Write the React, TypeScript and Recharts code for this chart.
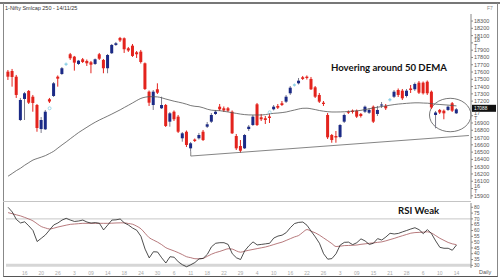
import React from 'react';
import { ComposedChart, Bar, Line, XAxis, YAxis, ReferenceLine, ReferenceArea } from 'recharts';

// daily candles, 10 Jun 2025 .. 14 Nov 2025
const opens = [
  17605, 17614, 17536, 16941, 17230, 17340, 17261, 17147, 16817, 16813,
  17226, 17271, 17536, 17573, 17697, 17844, 17811, 17711, 17775, 17752,
  17734, 17711, 17844, 17766, 17652, 17858, 17972, 18068, 18064, 17926,
  17962, 17871, 17880, 17720, 17330, 17147, 17363, 17102, 17147, 16918,
  17055, 16987, 16690, 16780, 16552, 16673, 16690, 16780, 16849, 16918,
  17024, 17124, 17102, 17102, 17055, 16721, 16584, 16552, 16817, 16872,
  17157, 16978, 16965, 16989, 17088, 17134, 17171, 17193, 17308, 17412,
  17445, 17528, 17536, 17505, 17390, 17285, 17179, 17010, 16735, 16721,
  16708, 16918, 17055, 17069, 17069, 17024, 17055, 17041, 17124, 17024,
  17140, 17134, 17209, 17261, 17353, 17344, 17271, 17374, 17363, 17454,
  17454, 17467, 17330, 17010, 17079, 17069, 17079, 17171, 17033,
];
const highs = [
  17628, 17642, 17560, 17244, 17326, 17353, 17285, 17161, 16982, 17079,
  17244, 17463, 17553, 17669, 17731, 17862, 17821, 17766, 17793, 17772,
  17752, 17786, 17862, 17779, 17848, 17985, 18013, 18082, 18075, 17944,
  17985, 17889, 17903, 17731, 17346, 17353, 17445, 17261, 17161, 17051,
  17072, 17010, 16776, 16797, 16639, 16687, 16763, 16804, 16914, 17037,
  17079, 17161, 17127, 17120, 17072, 16749, 16666, 16749, 16872, 17010,
  17175, 17024, 16996, 17037, 17147, 17161, 17202, 17285, 17408, 17443,
  17518, 17546, 17553, 17532, 17408, 17312, 17202, 17037, 16749, 16790,
  16886, 17030, 17072, 17085, 17085, 17037, 17140, 17106, 17140, 17134,
  17188, 17161, 17243, 17353, 17374, 17367, 17367, 17422, 17456, 17477,
  17470, 17484, 17346, 17065, 17092, 17085, 17140, 17188, 17106,
];
const lows = [
  17491, 17399, 17244, 16927, 16941, 17161, 17055, 16780, 16763, 16804,
  17175, 17257, 17399, 17560, 17683, 17766, 17619, 17697, 17724, 17683,
  17583, 17697, 17766, 17583, 17583, 17848, 17958, 18013, 17862, 17876,
  17807, 17793, 17717, 17353, 17134, 17079, 17298, 17092, 16845, 16849,
  16927, 16763, 16643, 16570, 16506, 16639, 16673, 16653, 16831, 16900,
  17010, 17065, 17051, 17051, 16749, 16529, 16492, 16543, 16790, 16859,
  16859, 16927, 16886, 16900, 17072, 17092, 17134, 17175, 17285, 17401,
  17429, 17491, 17497, 17353, 17243, 17175, 17134, 16680, 16629, 16629,
  16690, 16900, 17024, 17030, 16969, 16975, 17037, 17024, 16900, 16996,
  17106, 17079, 17195, 17243, 17257, 17216, 17250, 17312, 17340, 17298,
  17291, 17285, 17092, 16827, 17024, 16951, 17065, 17051, 17024,
];
const closes = [
  17536, 17532, 17285, 17216, 17308, 17179, 17175, 16831, 16941, 17055,
  17195, 17445, 17509, 17652, 17718, 17789, 17729, 17756, 17738, 17720,
  17701, 17775, 17783, 17652, 17834, 17972, 17995, 18034, 17913, 17896,
  17821, 17844, 17738, 17367, 17179, 17330, 17316, 17147, 16859, 17033,
  16951, 16780, 16758, 16598, 16621, 16653, 16735, 16666, 16882, 17010,
  17055, 17088, 17072, 17069, 16758, 16552, 16519, 16735, 16849, 16987,
  16872, 16951, 16941, 16969, 17124, 17110, 17147, 17261, 17385, 17432,
  17481, 17505, 17518, 17363, 17261, 17193, 17161, 16703, 16666, 16701,
  16872, 17010, 17041, 17051, 16987, 16996, 17124, 17079, 16918, 17079,
  17154, 17102, 17230, 17330, 17285, 17239, 17344, 17353, 17436, 17316,
  17308, 17308, 17113, 17044, 17044, 17033, 17124, 17069, 17088,
];
const dema50 = [
  16169, 16207, 16246, 16279, 16320, 16356, 16391, 16412, 16431, 16452,
  16481, 16512, 16556, 16599, 16640, 16684, 16727, 16769, 16806, 16842,
  16878, 16911, 16941, 16968, 16995, 17023, 17052, 17081, 17113, 17144,
  17176, 17209, 17238, 17254, 17261, 17261, 17258, 17246, 17229, 17214,
  17199, 17187, 17174, 17158, 17139, 17129, 17124, 17109, 17089, 17076,
  17071, 17069, 17060, 17051, 17041, 17032, 17022, 17015, 17011, 17010,
  17010, 17010, 17015, 17026, 17033, 17037, 17043, 17051, 17065, 17078,
  17092, 17102, 17103, 17095, 17084, 17071, 17062, 17055, 17051, 17051,
  17052, 17054, 17058, 17063, 17067, 17074, 17085, 17095, 17106, 17117,
  17126, 17135, 17144, 17153, 17160, 17165, 17170, 17174, 17177, 17177,
  17174, 17172, 17166, 17159, 17154, 17150, 17146, 17140, 17135,
];
const rsi14 = [
  80, 76, 69.5, 66.5, 67.5, 64, 60, 50.5, 53.3, 56.2,
  60.5, 64.8, 66.5, 69, 70.5, 69, 67.8, 68.2, 69, 67.3,
  66.4, 66.8, 66.2, 60.5, 64.7, 69, 69.2, 69.9, 66.6, 64.7,
  62.1, 60.2, 55, 44, 36.4, 41.7, 41.5, 36.5, 32, 37.4,
  37, 33, 30.5, 28.8, 30.5, 32.4, 35.6, 36, 39.5, 46,
  49, 49.5, 49.5, 48, 40, 36.5, 35, 42.5, 46.8, 50.2,
  47.6, 48, 48.5, 49, 53.5, 55.2, 56, 58.2, 62.5, 66,
  67, 67.3, 64.5, 59.4, 54.5, 49, 40, 35.3, 35.8, 40,
  47.5, 49.8, 50, 47.8, 49.5, 52.8, 51, 48, 49, 53,
  51.8, 54.4, 57.6, 57, 57.5, 58.8, 60, 61.3, 62.4, 60.7,
  57.3, 60.8, 57.2, 51, 45.5, 44.7, 44.7, 43, 47.5,
];
const rsiSignal = [
  75.4, 74.5, 73.5, 72.6, 71.3, 69.9, 68.3, 65.8, 63.4, 62.2,
  61.3, 62, 63, 63.8, 64.6, 65.3, 65.6, 65.9, 66.2, 66.2,
  66.2, 66.2, 66.2, 66.2, 66.2, 66.3, 66.5, 66.6, 66.6, 66,
  65.4, 63.7, 61.5, 57.6, 53.8, 51.8, 50, 47.8, 45.2, 43.7,
  42.4, 40.9, 39.2, 37.4, 36.6, 35.7, 35.6, 36, 37.8, 39.6,
  41, 42, 43.2, 44.3, 44, 42.4, 41.3, 42.2, 43, 43.7,
  44.4, 45.1, 45.8, 46.8, 47.9, 49, 50, 51.5, 53, 54.5,
  55.7, 58.5, 60.8, 59.4, 58, 56, 53.6, 51.2, 48.7, 46.2,
  46.5, 47, 47.1, 47.3, 47.5, 48.1, 48.5, 49, 49.3, 49.8,
  50.2, 51.1, 52.2, 53.2, 54.4, 55.5, 56.6, 57.7, 58.2, 58.4,
  58.6, 58.9, 57.8, 55.6, 53.3, 51.5, 49.7, 48.5, 47.8,
];
const lightCandles = [14, 69, 92];
const markIdx = [10, 63];
const markVal = [17102, 17047];

// 17100 sits under the last-price tag, so it is not listed
const priceTicks = [
  15900, 16000, 16100, 16200, 16300, 16400, 16500, 16600, 16700, 16800, 16900, 17000,
  17200, 17300, 17400, 17500, 17600, 17700, 17800, 17900, 18000, 18100, 18200, 18300,
];
const rsiTicks = [30, 35, 40, 45, 50, 55, 60, 65, 70, 75, 80];
const dateTickIdx = [4, 8, 12, 16, 20, 24, 28, 32, 36, 40, 44, 48, 52, 56, 60, 64, 68, 72, 76, 80, 84, 88, 92, 96, 100, 104, 108];
const dateTickLabels = ['16', '20', '26', '3', '09', '14', '18', '24', '30', '6', '11', '18', '22', '29', '4', '10', '16', '22', '26', '3', '09', '15', '21', '28', '6', '10', '14'];
const lastPrice = 17088;
const trendFrom = { i: 44, low: 16506, p: 16446 };
const trendTo = { i: 111, p: 16728 };
const circleBox = { i1: 102, i2: 111, p1: 16780, p2: 17239 };

const EMPTY_SLOTS = 3;

const data = Array.from({ length: opens.length + EMPTY_SLOTS }, (_, i) => {
  if (i >= opens.length) return { i };
  const mk = markIdx.indexOf(i);
  return {
    i,
    o: opens[i],
    h: highs[i],
    l: lows[i],
    c: closes[i],
    dema: dema50[i],
    rsi: rsi14[i],
    sig: rsiSignal[i],
    mark: mk >= 0 ? markVal[mk] : null,
  };
});

const RED = '#e3231d';
const NAVY = '#1b2a86';
const LIGHT = '#8ccfe6';

const Candle = (props: any) => {
  const { x, y, width, height, payload } = props;
  if (!payload || payload.o == null) return null;
  const { o, h, l, c, i } = payload;
  const top = Math.min(y, y + height);
  const span = Math.abs(height);
  const py = (v: number) => top + ((h - v) / (h - l)) * span;
  const cx = x + width / 2;
  const light = lightCandles.includes(i);
  const up = c >= o;
  const fill = light ? LIGHT : up ? NAVY : RED;
  const wick = light ? LIGHT : up ? '#7c7c8c' : RED;
  const bTop = py(Math.max(o, c));
  const bH = Math.max(1, py(Math.min(o, c)) - bTop);
  return (
    <g>
      <line x1={cx} x2={cx} y1={top} y2={top + span} stroke={wick} strokeWidth={1} />
      <rect x={cx - 1.5} y={bTop} width={3} height={bH} fill={fill} />
    </g>
  );
};

const PriceTag = (props: any) => {
  const vb = props.viewBox;
  if (!vb) return null;
  const x = vb.x + vb.width + 1;
  return (
    <g>
      <rect x={x} y={vb.y - 4.5} width={24} height={7} fill="#111" />
      <text x={x + 2} y={vb.y + 0.8} fontSize={4.8} fill="#fff">{lastPrice}</text>
    </g>
  );
};

const Ellipse = (props: any) => {
  const { x, y, width, height } = props;
  return (
    <ellipse cx={x + width / 2} cy={y + height / 2} rx={width / 2} ry={height / 2} fill="none" stroke="#555" strokeWidth={0.8} />
  );
};

const fmtPrice = (v: number) => (v % 1000 === 0 ? `${v / 1000} T` : String(v));
const fmtDate = (v: number) => {
  const k = dateTickIdx.indexOf(v);
  return k >= 0 ? dateTickLabels[k] : '';
};

const axisTick = { fontSize: 5.5, fill: '#555' };

export default function App() {
  return (
    <div style={{ position: 'absolute', left: 0, top: 0, width: 500, height: 280, background: '#fff', overflow: 'hidden', fontFamily: '"Liberation Sans", Arial, sans-serif' }}>
      <div style={{ position: 'absolute', left: 0, top: 2, width: 500, height: 2, background: '#777' }} />
      <div style={{ position: 'absolute', left: 3, top: 3, width: 493, height: 273, borderLeft: '1px solid #888', borderRight: '1px solid #888', borderBottom: '1px solid #555' }} />
      <div style={{ position: 'absolute', left: 3, top: 201, width: 468, height: 1, background: '#c4c4c4' }} />
      <div style={{ position: 'absolute', left: 5, top: 5, fontSize: 5.5, color: '#333', whiteSpace: 'nowrap' }}>1-Nifty Smlcap 250 - 14/11/25</div>
      <div style={{ position: 'absolute', left: 487, top: 5, fontSize: 5, color: '#888' }}>F7</div>

      <div style={{ position: 'absolute', left: 0, top: 0 }}>
        <ComposedChart width={500} height={200} data={data} margin={{ top: 14, right: 0, bottom: 1, left: 6 }}>
          <XAxis dataKey="i" type="category" scale="band" hide />
          <YAxis
            orientation="right"
            type="number"
            domain={[15856, 18397]}
            allowDataOverflow
            ticks={priceTicks}
            interval={0}
            width={29}
            tick={axisTick}
            tickSize={2}
            tickMargin={1}
            tickFormatter={fmtPrice}
            axisLine={{ stroke: '#888' }}
            tickLine={{ stroke: '#888' }}
          />
          <Bar dataKey={(d: any) => (d.o == null ? null : [d.l, d.h])} shape={Candle} isAnimationActive={false} />
          <Line dataKey="dema" type="monotone" stroke="#555" strokeWidth={0.8} dot={false} isAnimationActive={false} />
          <Line
            dataKey="mark"
            stroke="none"
            isAnimationActive={false}
            dot={(p: any) => (p.value == null ? <g key={p.index} /> : <circle key={p.index} cx={p.cx} cy={p.cy} r={1.5} fill="none" stroke={LIGHT} strokeWidth={0.8} />)}
          />
          <ReferenceLine
            segment={[{ x: trendFrom.i, y: trendFrom.low }, { x: trendFrom.i, y: trendFrom.p }]}
            stroke="#666"
            strokeWidth={0.8}
            ifOverflow="visible"
          />
          <ReferenceLine
            segment={[{ x: trendFrom.i, y: trendFrom.p }, { x: trendTo.i, y: trendTo.p }]}
            stroke="#666"
            strokeWidth={0.8}
            ifOverflow="visible"
          />
          <ReferenceArea x1={circleBox.i1} x2={circleBox.i2} y1={circleBox.p1} y2={circleBox.p2} shape={Ellipse} ifOverflow="visible" />
          <ReferenceLine y={lastPrice} stroke="none" label={(p: any) => <PriceTag {...p} />} />
        </ComposedChart>
      </div>

      <div style={{ position: 'absolute', left: 0, top: 200 }}>
        <ComposedChart width={500} height={80} data={data} margin={{ top: 3, right: 0, bottom: 0, left: 6 }}>
          <XAxis
            dataKey="i"
            type="category"
            scale="band"
            ticks={dateTickIdx}
            interval={0}
            tickFormatter={fmtDate}
            height={12}
            axisLine={false}
            tickLine={false}
            tickSize={2}
            tickMargin={1}
            tick={{ fontSize: 5, fill: '#aaa' }}
          />
          <YAxis
            orientation="right"
            type="number"
            domain={[27.7, 83.7]}
            allowDataOverflow
            ticks={rsiTicks}
            interval={0}
            width={29}
            tick={{ fontSize: 5, fill: '#555' }}
            tickSize={2}
            tickMargin={1}
            axisLine={{ stroke: '#888' }}
            tickLine={{ stroke: '#888' }}
          />
          <ReferenceLine y={70} stroke="#c8c8c8" strokeWidth={1} />
          <ReferenceLine y={30} stroke="#d6d6d6" strokeWidth={3} />
          <Line dataKey="sig" type="monotone" stroke="#a4585c" strokeWidth={0.8} dot={false} isAnimationActive={false} />
          <Line dataKey="rsi" type="linear" stroke="#222" strokeWidth={0.8} dot={false} isAnimationActive={false} />
        </ComposedChart>
      </div>

      <div style={{ position: 'absolute', left: 331, top: 62, fontFamily: 'Lato, sans-serif', fontWeight: 700, fontSize: 9.6, color: '#111', whiteSpace: 'nowrap' }}>Hovering around 50 DEMA</div>
      <div style={{ position: 'absolute', left: 398, top: 205, fontFamily: 'Lato, sans-serif', fontWeight: 700, fontSize: 9.6, color: '#111', whiteSpace: 'nowrap' }}>RSI Weak</div>
      <div style={{ position: 'absolute', left: 479, top: 269, fontSize: 5.5, color: '#555' }}>Daily</div>
    </div>
  );
}
